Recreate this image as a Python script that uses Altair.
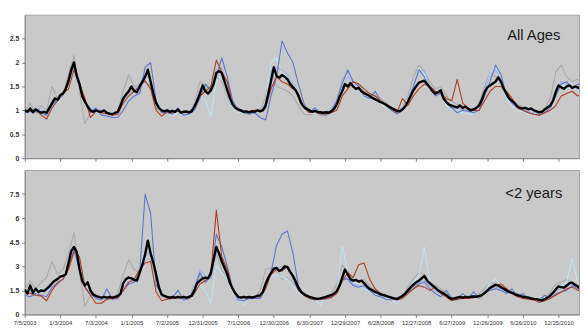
import altair as alt
import pandas as pd

START = "2003-07-05"
X_END = (2011, 4, 9)

TICK_LABELS = ["7/5/2003", "1/3/2004", "7/3/2004", "1/1/2005", "7/2/2005", "12/31/2005",
               "7/1/2006", "12/30/2006", "6/30/2007", "12/29/2007", "6/28/2008", "12/27/2008",
               "6/27/2009", "12/26/2009", "6/26/2010", "12/25/2010"]

# ---------- All Ages (black: 2-week steps, others: 4-week steps) ----------
black_top = [1.00,0.97,1.04,0.96,1.02,0.98,0.95,0.97,0.95,1.05,
             1.15,1.25,1.22,1.32,1.35,1.45,1.62,1.85,2.0,1.72,
             1.55,1.3,1.18,1.08,1.0,0.97,1.0,0.98,0.97,1.0,
             0.95,0.93,0.92,0.95,0.97,1.1,1.25,1.33,1.4,1.5,
             1.4,1.38,1.5,1.6,1.7,1.85,1.6,1.35,1.15,1.05,
             1.0,0.98,1.0,0.97,0.99,0.97,1.02,0.95,0.97,0.98,
             0.96,0.98,1.08,1.2,1.35,1.52,1.4,1.35,1.42,1.55,
             1.78,1.82,1.78,1.6,1.42,1.25,1.12,1.05,1.02,1.0,
             0.97,0.98,0.96,0.98,0.97,1.0,0.98,1.0,1.1,1.35,
             1.62,1.9,1.72,1.68,1.74,1.7,1.65,1.55,1.48,1.42,
             1.3,1.15,1.07,1.03,1.0,0.97,0.99,0.96,0.96,0.95,
             0.96,0.95,0.98,1.03,1.12,1.28,1.4,1.55,1.5,1.57,
             1.5,1.45,1.47,1.4,1.36,1.33,1.3,1.26,1.23,1.2,
             1.17,1.15,1.12,1.08,1.05,1.02,0.99,0.98,1.02,1.08,
             1.18,1.3,1.42,1.5,1.58,1.6,1.62,1.55,1.48,1.4,
             1.35,1.38,1.42,1.25,1.18,1.12,1.1,1.08,1.06,1.1,
             1.05,1.08,1.03,1.0,1.02,1.05,1.1,1.22,1.38,1.48,
             1.52,1.56,1.6,1.69,1.6,1.45,1.35,1.25,1.2,1.15,
             1.08,1.05,1.04,1.05,1.02,1.04,1.0,0.98,0.96,0.97,
             1.02,1.06,1.1,1.2,1.38,1.52,1.48,1.45,1.5,1.52,
             1.47,1.5,1.48,1.45,1.45]

gray_top = [0.98,1.15,0.95,1.1,1.0,1.5,1.25,1.35,1.75,2.15,
            1.4,0.72,0.95,0.98,0.95,0.93,0.9,1.0,1.4,1.75,
            1.5,1.55,1.6,1.5,1.05,0.98,0.95,0.97,1.0,0.95,
            0.93,1.15,1.6,1.5,1.45,1.7,1.6,1.3,1.05,0.98,
            0.95,0.93,0.95,0.97,1.3,1.85,1.5,1.45,1.4,1.3,
            1.1,0.92,0.9,0.95,0.9,0.88,0.95,1.2,1.65,1.8,
            1.6,1.55,1.4,1.35,1.3,1.25,1.15,1.05,0.95,1.05,
            1.3,1.7,1.95,1.8,1.6,1.45,1.5,1.3,1.2,1.12,
            1.1,1.05,1.02,1.15,1.5,1.8,1.7,1.55,1.4,1.25,
            1.12,1.08,1.05,1.0,0.95,1.05,1.25,1.8,1.95,1.7,
            1.6,1.65,1.55]

red_top = [1.0,0.98,1.02,0.9,0.82,1.05,1.2,1.35,1.45,1.85,
           1.55,1.25,0.85,0.98,0.95,0.93,0.9,0.92,1.15,1.3,
           1.4,1.5,1.62,1.45,1.0,0.88,0.97,0.95,1.0,0.95,
           0.97,1.05,1.3,1.4,1.5,2.05,1.8,1.6,1.1,1.0,
           0.97,0.98,1.0,1.0,1.05,1.45,1.7,1.6,1.55,1.45,
           1.35,1.05,0.95,0.98,0.92,0.93,0.95,1.0,1.3,1.45,
           1.6,1.55,1.45,1.35,1.3,1.2,1.1,1.02,0.95,1.25,
           1.1,1.3,1.45,1.55,1.5,1.4,1.35,1.25,1.2,1.65,
           1.15,1.05,1.0,1.0,1.2,1.4,1.5,1.5,1.4,1.25,
           1.05,1.0,0.95,0.92,0.9,0.95,1.0,1.1,1.3,1.35,
           1.4,1.3,1.35]

blue_top = [0.95,1.0,0.97,0.95,0.9,1.1,1.25,1.35,1.55,1.95,
            1.6,1.2,0.95,1.05,0.9,0.88,0.85,0.85,1.0,1.2,
            1.3,1.35,1.9,2.0,1.2,0.95,0.95,0.92,1.05,0.9,
            0.92,1.0,1.25,1.55,1.4,1.7,2.1,1.7,1.2,1.0,
            0.95,0.92,0.95,0.85,0.8,1.3,1.7,2.45,2.2,2.0,
            1.55,1.15,0.95,1.05,0.95,0.9,1.0,1.2,1.55,1.85,
            1.6,1.5,1.3,1.25,1.4,1.2,1.1,1.0,0.92,1.0,
            1.2,1.5,1.85,1.7,1.45,1.3,1.35,1.15,1.05,0.95,
            1.0,0.98,0.95,1.0,1.3,1.6,1.95,1.75,1.3,1.15,
            1.05,1.0,0.95,0.92,0.9,0.95,1.05,1.3,1.55,1.6,
            1.45,1.55,1.5]

lav_top = [1.0,0.95,1.05,1.0,0.95,1.1,1.2,1.3,1.6,1.95,
           1.5,1.15,1.05,1.0,1.02,0.95,0.92,0.98,1.2,1.35,
           1.45,1.55,1.75,1.65,1.15,1.0,1.02,1.0,0.98,0.95,
           0.98,1.1,1.45,1.5,1.5,1.85,1.9,1.45,1.1,1.02,
           1.0,0.98,0.95,1.0,1.15,1.75,1.9,1.85,1.75,1.55,
           1.35,1.05,1.0,0.98,0.95,0.97,1.0,1.15,1.45,1.7,
           1.6,1.5,1.35,1.3,1.25,1.2,1.1,1.05,1.0,1.05,
           1.2,1.5,1.8,1.85,1.5,1.35,1.4,1.15,1.05,1.05,
           1.02,1.0,0.98,1.12,1.45,1.7,1.85,1.65,1.3,1.15,
           1.05,1.02,0.98,0.95,0.93,1.0,1.12,1.45,1.6,1.55,
           1.5,1.45,1.4]

cyan_top = [0.98,1.02,0.97,1.0,0.98,1.05,1.15,1.3,1.5,1.9,
            1.55,1.2,1.0,0.95,0.97,0.95,0.95,0.93,1.15,1.3,
            1.35,1.45,1.65,1.55,1.1,0.97,0.95,0.88,0.95,0.92,
            0.9,1.05,1.3,1.2,0.88,1.6,1.7,1.35,1.05,0.95,
            0.95,0.93,0.95,0.97,1.2,2.0,2.1,1.8,1.7,1.5,
            1.25,1.0,0.95,0.93,0.92,0.95,0.97,1.1,1.5,1.85,
            1.55,1.45,1.3,1.25,1.2,1.15,1.05,1.0,0.95,1.0,
            1.15,1.45,1.9,1.75,1.45,1.3,1.35,1.1,1.0,0.97,
            0.95,0.93,0.92,1.05,1.4,1.75,1.95,1.6,1.25,1.1,
            1.0,0.97,0.93,0.92,0.9,0.95,1.05,1.4,1.55,1.5,
            1.45,1.5,1.45]

# ---------- <2 years ----------
black_bot = [1.55,1.3,1.8,1.35,1.6,1.4,1.5,1.45,1.6,1.75,
             1.95,2.1,2.2,2.35,2.4,2.5,3.2,3.95,4.2,3.9,
             2.85,2.1,1.8,2.0,1.5,1.25,1.15,1.1,1.05,1.1,
             1.05,1.1,1.05,1.1,1.15,1.3,1.95,2.2,2.3,2.25,
             2.15,2.1,2.6,3.1,3.75,4.6,3.8,3.2,2.5,1.7,
             1.25,1.15,1.1,1.05,1.1,1.05,1.1,1.05,1.1,1.05,
             1.1,1.15,1.5,1.95,2.1,2.25,2.3,2.25,2.6,3.4,
             4.2,3.8,3.3,2.9,2.5,1.95,1.6,1.3,1.1,1.05,
             1.1,1.05,1.1,1.05,1.1,1.15,1.2,1.4,1.9,2.3,
             2.6,2.85,2.9,2.7,2.8,3.0,2.95,2.65,2.4,2.05,
             1.65,1.4,1.27,1.17,1.1,1.05,1.0,0.97,1.0,1.05,
             1.1,1.15,1.2,1.3,1.45,1.8,2.3,2.8,2.5,2.2,
             2.1,2.15,2.05,2.1,1.95,1.75,1.6,1.5,1.4,1.35,
             1.25,1.2,1.15,1.1,1.05,1.0,0.97,1.05,1.15,1.3,
             1.5,1.7,1.85,2.0,2.1,2.25,2.4,2.1,1.95,1.8,
             1.65,1.5,1.4,1.3,1.2,1.05,0.97,1.0,1.05,1.1,
             1.05,1.1,1.07,1.1,1.12,1.1,1.15,1.2,1.35,1.5,
             1.65,1.75,1.85,1.8,1.7,1.6,1.5,1.4,1.35,1.27,
             1.2,1.15,1.1,1.08,1.05,1.0,0.97,0.95,0.9,0.88,
             0.95,1.05,1.17,1.35,1.55,1.75,1.7,1.67,1.8,1.95,
             1.98,1.85,1.75,1.6,1.55]

gray_bot = [1.5,2.1,1.6,2.0,2.3,3.3,2.5,2.8,3.8,5.1,
            2.6,0.5,1.2,1.1,1.0,1.05,1.0,1.3,2.5,3.4,
            2.8,2.6,3.6,3.4,2.2,1.1,1.05,1.0,1.1,1.0,
            1.05,1.8,2.4,2.2,2.4,3.8,2.8,2.2,1.4,1.05,
            1.0,1.05,1.0,1.5,2.8,2.9,2.7,2.2,2.3,2.0,
            1.5,1.2,1.0,0.95,1.0,1.1,1.3,1.9,3.1,2.6,
            2.2,2.0,2.2,1.8,1.5,1.3,1.2,1.1,1.0,1.2,
            1.7,2.2,2.6,2.5,2.0,1.8,1.6,1.3,1.05,1.1,
            1.15,1.1,1.2,1.3,1.6,2.0,1.9,1.8,1.6,1.4,
            1.3,1.15,1.1,1.0,0.95,1.0,1.4,1.9,2.0,2.2,
            2.0,1.8,1.7]

red_bot = [1.4,1.3,1.2,1.15,0.85,1.5,2.0,2.2,2.8,3.9,
           3.6,1.7,1.2,0.7,0.7,0.95,1.0,1.05,1.5,2.0,
           2.2,2.8,3.2,3.3,1.4,0.85,0.95,1.0,1.05,1.1,
           1.0,1.3,1.9,2.1,2.5,6.5,3.6,2.8,1.5,1.1,
           1.05,1.1,1.1,1.1,1.6,2.5,2.8,2.7,3.0,2.3,
           1.5,1.2,1.0,0.95,0.95,1.0,1.05,1.3,2.1,2.6,
           2.3,3.1,3.2,2.2,1.6,1.3,1.2,1.0,0.9,1.0,
           1.3,1.6,1.8,1.7,1.5,1.7,1.3,1.1,0.85,0.95,
           1.0,1.0,1.05,1.1,1.3,1.6,1.8,1.9,1.6,1.3,
           1.1,1.0,0.95,0.9,0.75,0.85,1.0,1.2,1.4,1.6,
           1.7,1.5,1.4]

blue_bot = [1.2,1.1,1.3,1.2,1.1,1.7,1.9,2.2,3.0,4.0,
            2.8,1.7,1.3,1.0,0.9,1.6,0.95,1.0,1.5,1.9,
            2.0,2.6,7.5,6.3,1.8,1.3,1.0,1.05,1.5,0.9,
            1.0,1.6,2.6,2.0,2.4,5.0,4.2,3.0,1.6,0.9,
            0.85,1.0,1.0,1.0,1.6,2.6,4.3,5.0,5.2,3.8,
            1.8,1.2,1.0,0.9,0.95,0.95,1.1,1.4,2.2,2.2,
            1.8,1.7,1.8,1.5,1.2,1.1,0.95,0.9,1.0,1.2,
            1.4,1.6,1.9,2.0,1.6,1.3,1.1,1.5,1.0,0.9,
            1.3,1.0,1.4,1.0,1.3,1.5,1.6,1.5,1.3,1.6,
            1.1,1.3,1.0,0.95,0.9,1.2,1.0,1.3,1.4,1.5,
            1.8,1.6,1.5]

lav_bot = [1.3,1.4,1.5,1.4,1.5,1.8,2.0,2.2,3.0,4.0,
           2.7,1.6,1.3,1.05,1.0,0.95,1.0,1.1,1.7,2.1,
           2.0,2.4,3.6,4.0,2.6,1.2,1.0,1.05,1.0,1.05,
           1.0,1.7,2.8,2.4,2.2,3.8,3.4,2.6,1.5,1.0,
           1.0,0.95,1.05,1.1,1.8,2.5,2.9,3.0,2.8,2.2,
           1.5,1.2,1.0,0.95,1.0,1.05,1.15,1.4,2.0,2.4,
           1.9,1.8,1.7,1.5,1.35,1.2,1.1,1.0,0.9,1.05,
           1.4,1.7,2.0,2.1,1.8,1.5,1.3,1.1,0.95,1.0,
           1.1,1.0,1.1,1.1,1.3,1.6,1.7,1.6,1.4,1.3,
           1.15,1.05,1.0,0.9,0.85,0.9,1.1,1.5,1.6,1.7,
           1.9,1.7,1.5]

cyan_bot = [1.4,1.5,1.3,1.6,1.5,1.8,2.1,2.3,3.1,4.0,
            2.6,1.8,1.4,1.1,1.0,1.0,1.1,1.2,1.8,2.2,
            2.1,2.5,3.5,3.6,2.3,1.2,1.0,1.1,1.0,1.1,
            1.0,1.3,1.8,1.5,0.7,3.0,2.6,2.2,1.4,1.0,
            0.6,1.0,1.1,1.0,1.6,2.3,2.5,2.3,2.2,1.8,
            1.4,1.2,1.0,0.9,0.6,1.0,1.2,1.3,4.3,2.6,
            2.0,1.9,1.6,1.4,1.3,1.2,1.1,0.9,0.7,1.2,
            1.6,2.0,2.4,4.2,2.0,1.6,1.4,1.2,0.8,1.0,
            1.2,1.1,1.3,1.2,1.4,2.0,2.2,1.8,1.5,1.3,
            1.1,1.0,1.0,0.9,0.7,0.8,1.2,1.6,1.8,2.0,
            3.5,2.0,1.8]

COLORS = {"gray": "#a9a9a9", "cyan": "#bfe4f0", "lav": "#9fb3e6",
          "blue": "#5a76cf", "red": "#b23a1a", "black": "#000000"}

FONT = "Liberation Sans"
W = 564


def md(s):
    m, d, y = (int(p) for p in s.split("/"))
    return alt.DateTime(year=y, month=m, date=d)


x_domain = [alt.DateTime(year=2003, month=7, date=5),
            alt.DateTime(year=X_END[0], month=X_END[1], date=X_END[2])]
tick_values = [md(s) for s in TICK_LABELS]


def series_df(values, step_days):
    dates = pd.date_range(START, periods=len(values), freq=f"{step_days}D")
    return pd.DataFrame({"date": dates.strftime("%Y-%m-%dT%H:%M:%S"), "value": values})


def panel(series, ymax, yticks, label, label_y, height, show_labels):
    xaxis = alt.Axis(values=tick_values, format="%-m/%-d/%Y", labels=show_labels,
                     title=None, grid=False, tickSize=3, tickColor="#777",
                     domainColor="#888", labelFont=FONT, labelFontSize=6,
                     labelColor="#333", labelOverlap=False, labelFlush=False,
                     labelPadding=2)
    yaxis = alt.Axis(values=yticks, labelExpr="format(datum.value, '.3~g')", title=None,
                     grid=False, tickSize=3, tickColor="#777", domainColor="#888",
                     labelFont=FONT, labelFontSize=7, labelFontWeight="bold",
                     labelColor="#333", labelPadding=3)
    layers = []
    for vals, step, color, width in series:
        layers.append(
            alt.Chart(series_df(vals, step)).mark_line(
                color=color, strokeWidth=width, clip=True, strokeJoin="round"
            ).encode(
                x=alt.X("date:T", scale=alt.Scale(domain=x_domain), axis=xaxis),
                y=alt.Y("value:Q", scale=alt.Scale(domain=[0, ymax]), axis=yaxis),
            )
        )
    txt = alt.Chart(pd.DataFrame({"t": [label]})).mark_text(
        font=FONT, fontSize=15, color="#1a1a1a", align="center", baseline="alphabetic"
    ).encode(text="t:N", x=alt.value(518), y=alt.value(label_y))
    return alt.layer(*layers, txt).properties(width=W, height=height)


top = panel([(gray_top, 28, COLORS["gray"], 1.1),
             (cyan_top, 28, COLORS["cyan"], 1.1),
             (lav_top, 28, COLORS["lav"], 1.1),
             (blue_top, 28, COLORS["blue"], 1.1),
             (red_top, 28, COLORS["red"], 1.1),
             (black_top, 14, COLORS["black"], 2.4)],
            3, [0, 0.5, 1, 1.5, 2, 2.5], "All Ages", 26, 146, False)

bottom = panel([(gray_bot, 28, COLORS["gray"], 1.1),
                (cyan_bot, 28, COLORS["cyan"], 1.1),
                (lav_bot, 28, COLORS["lav"], 1.1),
                (blue_bot, 28, COLORS["blue"], 1.1),
                (red_bot, 28, COLORS["red"], 1.1),
                (black_bot, 14, COLORS["black"], 2.4)],
               9, [0, 1.5, 3, 4.5, 6, 7.5], "<2 years", 29, 147, True)

chart = alt.vconcat(top, bottom, spacing=7).configure(
    padding={"left": 0, "top": 3, "right": 0, "bottom": 0},
    background="white",
).configure_view(fill="#c9c9c9", stroke="#a0a0a0", strokeWidth=1)

chart.save("out.html", embed_options={"renderer": "svg", "actions": False})
